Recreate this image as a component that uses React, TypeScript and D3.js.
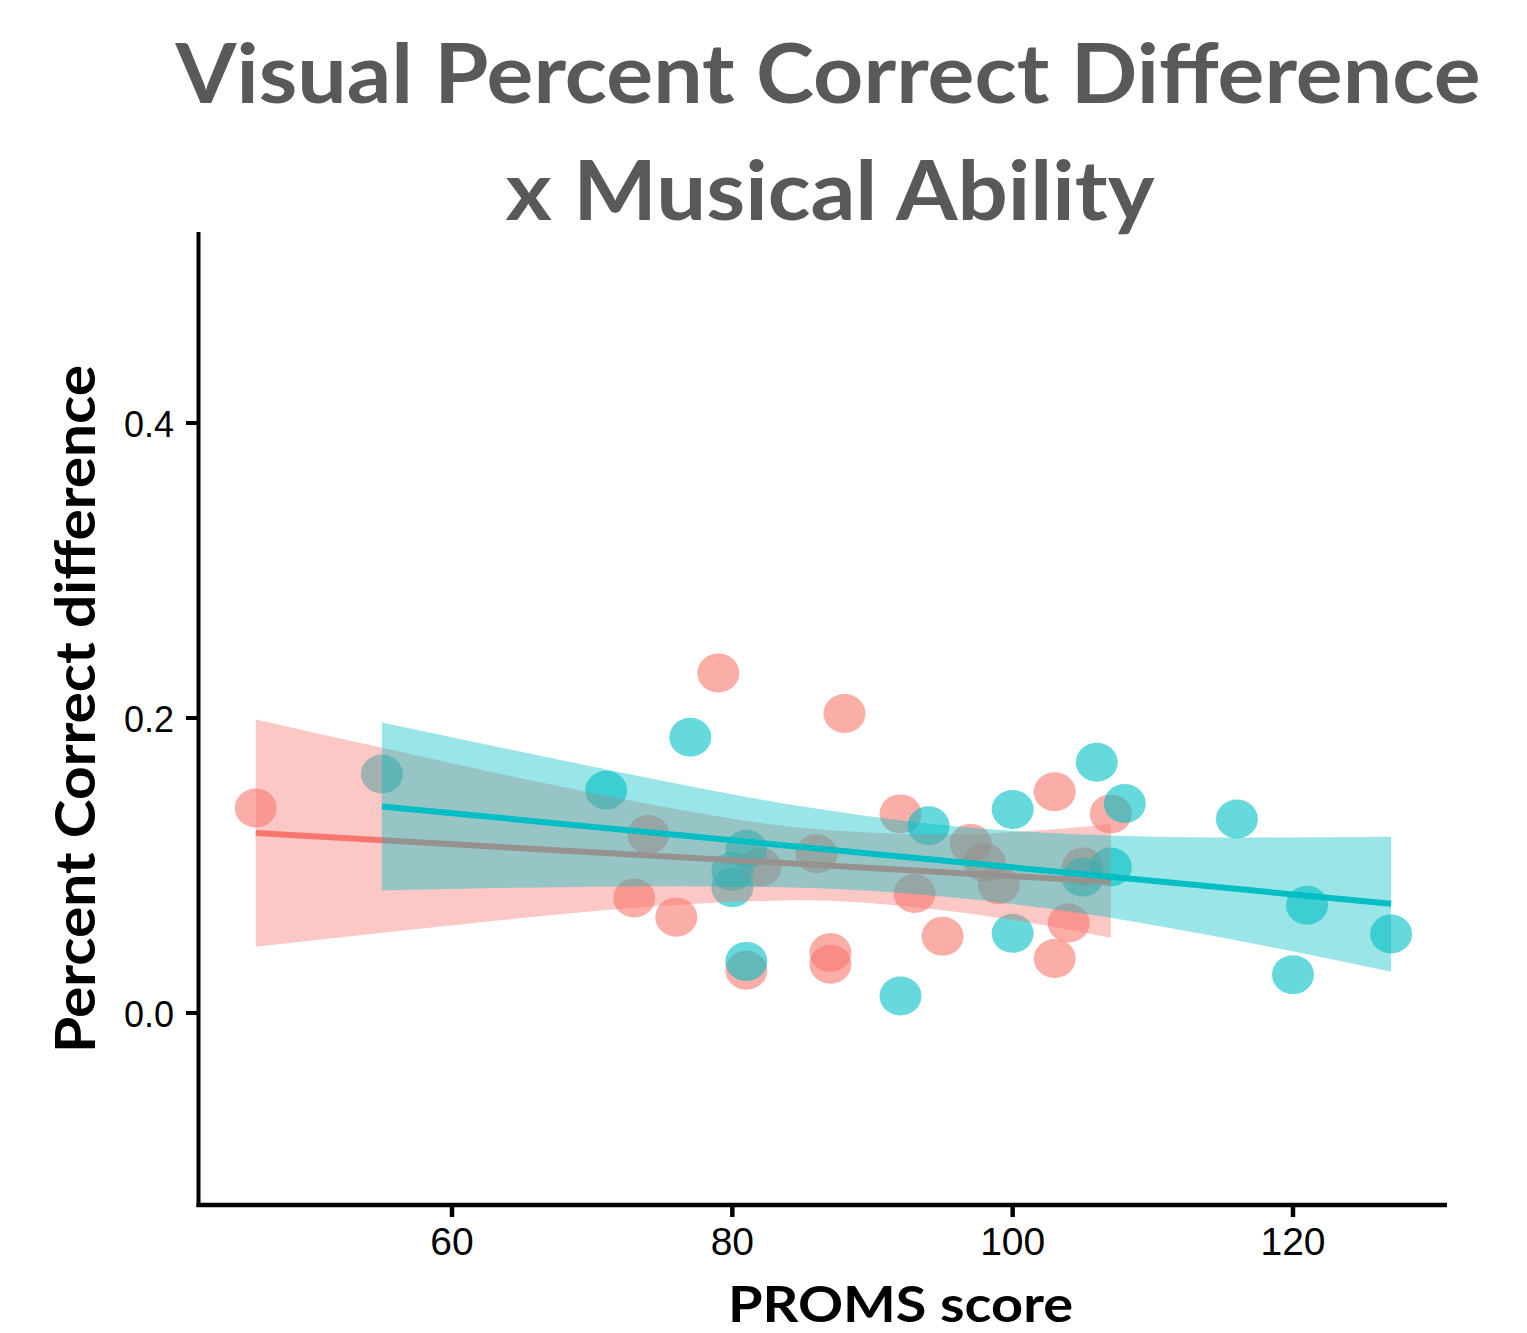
import React from 'react';
import * as d3 from 'd3';

// PROMS score (x) and percent correct difference (y), per group
const salmonX = [46, 73, 74, 76, 79, 81, 82, 86, 87, 87, 88, 92, 93, 95, 97, 98, 99, 103, 103, 104, 105, 107];
const salmonY = [0.139, 0.078, 0.121, 0.065, 0.2305, 0.029, 0.099, 0.108, 0.041, 0.033, 0.203, 0.135, 0.081, 0.052, 0.115, 0.102, 0.087, 0.150, 0.037, 0.061, 0.099, 0.135];

const tealX = [55, 71, 77, 80, 80, 81, 81, 92, 94, 100, 100, 105, 106, 107, 108, 116, 120, 121, 127];
const tealY = [0.162, 0.151, 0.187, 0.096, 0.085, 0.111, 0.035, 0.0115, 0.127, 0.138, 0.054, 0.092, 0.170, 0.099, 0.142, 0.1315, 0.026, 0.073, 0.0536];

// fitted lines and confidence ribbons
const salmonFitX = [46, 107];
const salmonFit = [0.122, 0.089];
const salmonBandX = [46, 55, 65, 75, 85, 95, 107];
const salmonBandLo = [0.045, 0.0544, 0.0644, 0.0727, 0.0764, 0.0697, 0.051];
const salmonBandHi = [0.199, 0.1798, 0.159, 0.140, 0.1254, 0.1211, 0.128];

const tealFitX = [55, 127];
const tealFit = [0.140, 0.074];
const tealBandX = [55, 65, 75, 85, 95, 105, 115, 127];
const tealBandLo = [0.083, 0.085, 0.086, 0.085, 0.079, 0.0675, 0.051, 0.028];
const tealBandHi = [0.197, 0.177, 0.1575, 0.140, 0.1274, 0.121, 0.119, 0.1195];

const xTicks = [60, 80, 100, 120];
const yTicks = [0.0, 0.2, 0.4];

const SALMON = '#F8766D';
const TEAL = '#00BFC4';

export default function App() {
  const W = 1527, H = 1333;
  const x = d3.scaleLinear().domain([60, 120]).range([452, 1293]);
  const y = d3.scaleLinear().domain([0, 0.4]).range([1013, 423]);

  const band = (xs: number[], lo: number[], hi: number[]) =>
    d3.area<number>()
      .x((_, i) => x(xs[i]))
      .y0((_, i) => y(lo[i]))
      .y1((_, i) => y(hi[i]))
      .curve(d3.curveMonotoneX)(xs);

  const line = (xs: number[], ys: number[]) =>
    d3.line<number>()
      .x((_, i) => x(xs[i]))
      .y((_, i) => y(ys[i]))(xs);

  const axisX0 = 198.5;
  const axisY0 = 1205;

  return (
    <svg width={W} height={H} style={{ position: 'absolute', left: 0, top: 0, background: '#fff' }}>
      <rect width={W} height={H} fill="#fff" />

      {/* title */}
      <g fontFamily="Lato" fontWeight={700} fill="#595959" fontSize={83} textAnchor="middle">
        <text x={828} y={103} textLength={1305} lengthAdjust="spacingAndGlyphs">Visual Percent Correct Difference</text>
        <text x={830} y={220} textLength={649} lengthAdjust="spacingAndGlyphs">x Musical Ability</text>
      </g>

      {/* points */}
      {salmonX.map((v, i) => (
        <ellipse key={'s' + i} cx={x(v)} cy={y(salmonY[i])} rx={21} ry={19.5} fill={SALMON} fillOpacity={0.6} />
      ))}
      {tealX.map((v, i) => (
        <ellipse key={'t' + i} cx={x(v)} cy={y(tealY[i])} rx={21} ry={19.5} fill={TEAL} fillOpacity={0.6} />
      ))}

      {/* smooths */}
      <path d={band(salmonBandX, salmonBandLo, salmonBandHi) || ''} fill={SALMON} fillOpacity={0.4} />
      <path d={line(salmonFitX, salmonFit) || ''} stroke={SALMON} strokeWidth={6} fill="none" />
      <path d={band(tealBandX, tealBandLo, tealBandHi) || ''} fill={TEAL} fillOpacity={0.4} />
      <path d={line(tealFitX, tealFit) || ''} stroke={TEAL} strokeWidth={6} fill="none" />

      {/* axes */}
      <line x1={axisX0} x2={axisX0} y1={232} y2={axisY0 + 2} stroke="#000" strokeWidth={4} />
      <line x1={axisX0 - 2} x2={1447} y1={axisY0} y2={axisY0} stroke="#000" strokeWidth={4.5} />

      {yTicks.map(t => (
        <g key={'y' + t}>
          <line x1={186} x2={axisX0} y1={y(t)} y2={y(t)} stroke="#000" strokeWidth={4} />
          <text x={174} y={y(t) + 14} textAnchor="end" fontFamily="Liberation Sans, Arial" fontSize={36} fill="#000">
            {t.toFixed(1)}
          </text>
        </g>
      ))}
      {xTicks.map(t => (
        <g key={'x' + t}>
          <line x1={x(t)} x2={x(t)} y1={axisY0} y2={1217} stroke="#000" strokeWidth={4.5} />
          <text x={x(t)} y={1255} textAnchor="middle" fontFamily="Liberation Sans, Arial" fontSize={39} fill="#000">
            {t}
          </text>
        </g>
      ))}

      {/* axis titles */}
      <text x={900.5} y={1322} textAnchor="middle" fontFamily="Lato" fontWeight={700} fontSize={50}
        textLength={345} lengthAdjust="spacingAndGlyphs" fill="#000">PROMS score</text>
      <text transform="translate(95,709) rotate(-90)" textAnchor="middle" fontFamily="Lato" fontWeight={700}
        fontSize={55} textLength={688} lengthAdjust="spacingAndGlyphs" fill="#000">Percent Correct difference</text>
    </svg>
  );
}
